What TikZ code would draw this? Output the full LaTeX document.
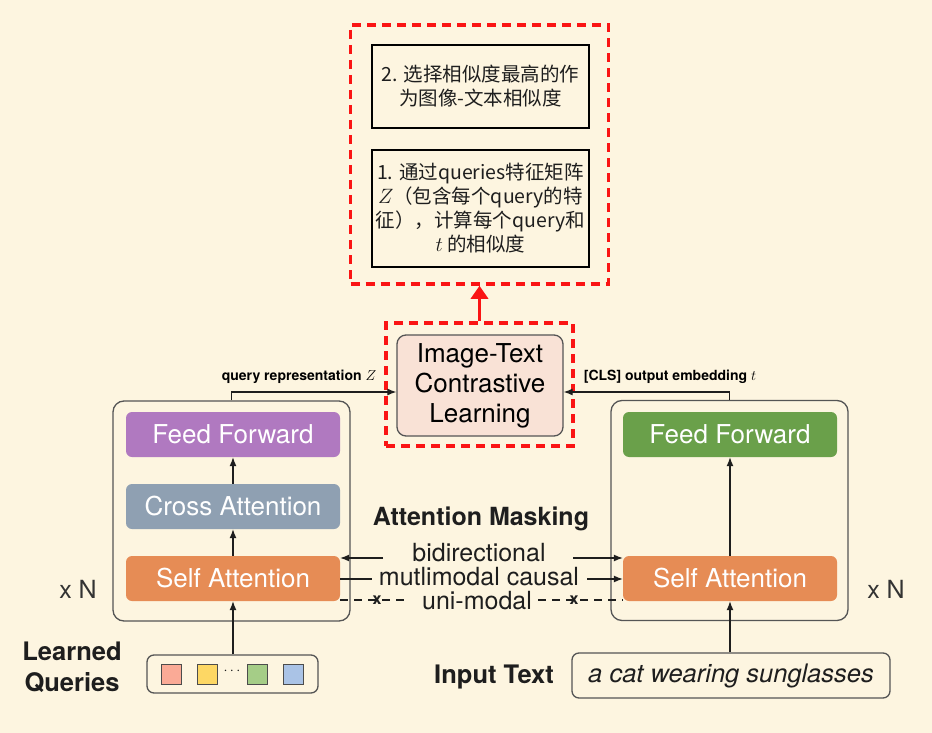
\documentclass[tikz,border=0pt]{standalone}
\usepackage{fontspec}
\setmainfont{TeX Gyre Heros}
\newfontfamily\cjk{Noto Sans CJK SC}
\usetikzlibrary{arrows.meta,calc}
\definecolor{bgc}{RGB}{253,245,224}
\definecolor{ffpurple}{RGB}{176,121,192}
\definecolor{cagray}{RGB}{143,160,178}
\definecolor{saorange}{RGB}{230,140,85}
\definecolor{ffgreen}{RGB}{106,160,74}
\definecolor{itcfill}{RGB}{249,226,214}
\definecolor{redd}{RGB}{250,20,20}
\definecolor{txt}{RGB}{30,30,30}
\definecolor{bord}{RGB}{85,85,85}
\definecolor{qpink}{RGB}{250,170,150}
\definecolor{qyellow}{RGB}{253,215,100}
\definecolor{qgreen}{RGB}{165,205,135}
\definecolor{qblue}{RGB}{170,195,230}
\begin{document}
\begin{tikzpicture}[x=1pt,y=-1pt,
  blk/.style={rounded corners=6pt, minimum width=214pt, minimum height=45pt, text=white, font=\fontsize{26}{30}\selectfont, inner sep=0pt},
  bigbox/.style={draw=bord, rounded corners=11pt, line width=1.3pt, minimum width=237pt, minimum height=220pt, inner sep=0pt},
  arr/.style={-{Latex[length=9pt,width=7pt]}, line width=1.2pt, draw=txt},
  plainln/.style={line width=1.2pt, draw=txt},
  reddash/.style={draw=redd, line width=3.5pt, dash pattern=on 9pt off 6pt},
  cnbox/.style={draw=black, line width=1.8pt, minimum width=217pt, inner sep=0pt, align=center, font=\cjk\fontsize{19.5}{24}\selectfont, text=txt},
  lbl/.style={font=\fontsize{25}{30}\selectfont, text=txt, inner sep=0pt},
  sq/.style={draw=black!70, line width=1pt, minimum size=20pt, inner sep=0pt},
  smalllbl/.style={font=\bfseries\fontsize{14}{16}\selectfont, text=black, inner sep=0pt}
]
\useasboundingbox (0,0) rectangle (932,733);
\fill[bgc] (0,0) rectangle (932,733);

% top red dashed region
\node[reddash, minimum width=258pt, minimum height=259pt, inner sep=0pt] (outer) at (479.5,154.5) {};
\node[cnbox, minimum height=83pt] (box2) at (480.5,86.5) {2. 选择相似度最高的作\\为图像-文本相似度};
\node[cnbox, minimum height=117pt] (box1) at (480.5,208.5) {1. 通过queries特征矩阵\\$Z$（包含每个query的特\\征），计算每个query和\\$t$ 的相似度};

% ITC
\node[reddash, minimum width=187pt, minimum height=123pt, inner sep=0pt] (redsmall) at (479.5,384.5) {};
\node[draw=bord, fill=itcfill, line width=1.3pt, rounded corners=9pt, minimum width=166pt, minimum height=101pt, align=center, inner sep=0pt, font=\fontsize{26}{30}\selectfont, text=black] (itc) at (480,385.5) {Image-Text\\Contrastive\\Learning};
\draw[draw=redd, line width=3.5pt, -{Triangle[length=13pt,width=17pt]}] (redsmall.north) -- (outer.south);

% big boxes
\node[bigbox] (lbig) at (231.5,511) {};
\node[bigbox] (rbig) at (729.5,510.5) {};

% left column
\node[blk, fill=ffpurple] (lff) at (233,434.5) {Feed Forward};
\node[blk, fill=cagray] (lca) at (233,506.5) {Cross Attention};
\node[blk, fill=saorange] (lsa) at (233,578.5) {Self Attention};
\draw[arr] (lca) -- (lff);
\draw[arr] (lsa) -- (lca);

% right column
\node[blk, fill=ffgreen] (rff) at (730,434.5) {Feed Forward};
\node[blk, fill=saorange] (rsa) at (730,578.5) {Self Attention};
\draw[arr] (rsa) -- (rff);

% x N
\node[lbl, text=black!80] (xnl) at (78,589) {x N};
\node[lbl, text=black!80] (xnr) at (886,589) {x N};

% outputs to ITC
\coordinate (arry) at (0,392);
\draw[arr] (lbig.north) |- (itc.west |- arry);
\draw[arr] (rbig.north) |- (itc.east |- arry);
\node[smalllbl] (qrep) at (299,377) {query representation $Z$};
\node[smalllbl] (clsl) at (670,377) {[CLS] output embedding $t$};

% attention masking
\node[lbl, font=\bfseries\fontsize{25}{28}\selectfont] (am) at (481,519) {Attention Masking};
\node[lbl] (bidir) at (479,553) {bidirectional};
\node[lbl] (mcaus) at (479,577) {mutlimodal causal};
\node[lbl] (unim) at (477,601) {uni-modal};

\coordinate (b1) at (383,558);
\coordinate (b2) at (573,558);
\draw[arr] (b1) -- (b1 -| lsa.east);
\draw[arr] (b2) -- (b2 -| rsa.west);
\coordinate (m1) at (372,579);
\coordinate (m2) at (587,579);
\draw[plainln] (m1 -| lsa.east) -- (m1);
\draw[arr] (m2) -- (m2 -| rsa.west);
\coordinate (u1) at (410,600);
\coordinate (u2) at (538,600);
\draw[plainln, dash pattern=on 8pt off 6pt] (u1 -| lsa.east) -- (u1);
\draw[plainln, dash pattern=on 8pt off 6pt] (u2) -- (u2 -| rsa.west);
\node[font=\bfseries\fontsize{16}{16}\selectfont, text=txt, inner sep=0pt] (xl) at (377,600) {x};
\node[font=\bfseries\fontsize{16}{16}\selectfont, text=txt, inner sep=0pt] (xr) at (574,600) {x};

% learned queries
\node[lbl, font=\bfseries\fontsize{25.5}{31}\selectfont, align=center] (lq) at (72,667) {Learned\\Queries};
\node[draw=bord, line width=1.3pt, rounded corners=7pt, minimum width=171pt, minimum height=38pt, inner sep=0pt] (qbox) at (232.5,674) {};
\node[sq, fill=qpink] (q1) at (171.5,674) {};
\node[sq, fill=qyellow] (q2) at (207,674) {};
\node[font=\fontsize{14}{14}\selectfont, text=txt, inner sep=0pt] (qdots) at (232,671) {$\cdots$};
\node[sq, fill=qgreen] (q3) at (257.5,674) {};
\node[sq, fill=qblue] (q4) at (293.5,674) {};
\draw[arr] (qbox.north -| lsa) -- (lsa.south);

% input text
\node[lbl, font=\bfseries\fontsize{25.5}{30}\selectfont] (itx) at (494,677) {Input Text};
\node[draw=bord, line width=1.3pt, rounded corners=7pt, minimum width=318pt, minimum height=45pt, inner sep=0pt, font=\itshape\fontsize{25.5}{30}\selectfont, text=txt] (tbox) at (731,675.5) {a cat wearing sunglasses};
\draw[arr] (tbox.north -| rsa) -- (rsa.south);
\end{tikzpicture}
\end{document}
